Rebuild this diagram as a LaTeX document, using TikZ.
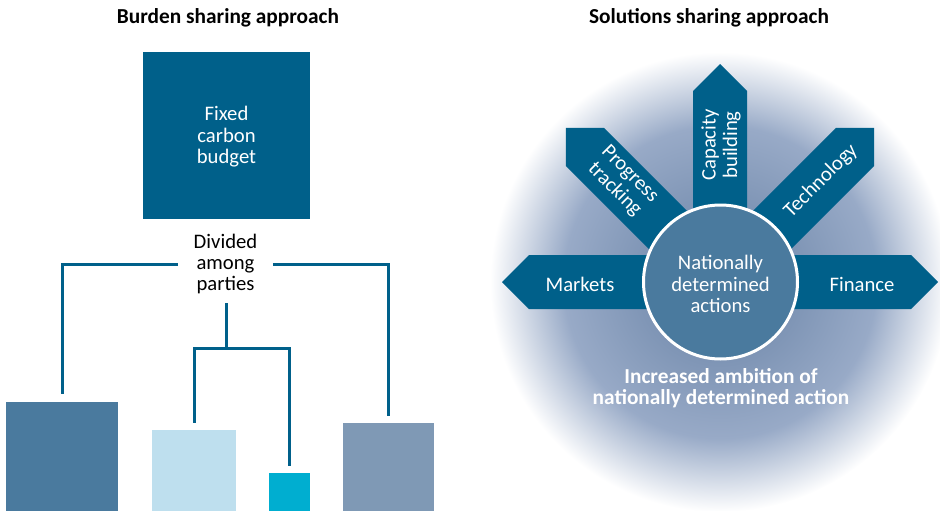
\documentclass[tikz,border=0pt]{standalone}
\usepackage{fontspec}
\setmainfont{Carlito}
\definecolor{navy}{RGB}{0,96,138}
\definecolor{midblue}{RGB}{74,122,158}
\definecolor{lightblue}{RGB}{190,223,238}
\definecolor{cyanbox}{RGB}{0,174,208}
\definecolor{greyblue}{RGB}{127,153,181}
\definecolor{glowA}{RGB}{122,145,178}
\definecolor{glowB}{RGB}{152,170,199}
\pgfdeclareradialshading{glow}{\pgfpoint{0bp}{0bp}}{color(0bp)=(glowA); color(7bp)=(glowA); color(17bp)=(glowB); color(25bp)=(white); color(50bp)=(white)}
\tikzset{
  txt/.style={font=\fontsize{15.5}{16.1}\selectfont, align=center, inner sep=0pt},
  ttl/.style={font=\bfseries\fontsize{16}{16.1}\selectfont, align=center, inner sep=0pt},
  box/.style={rectangle, inner sep=0pt, draw=none},
  conn/.style={draw=navy, line width=2.25pt, shorten >=5pt},
  arrowshape/.style={fill=navy, draw=none},
}
\begin{document}
\begin{tikzpicture}[x=0.75pt,y=-0.75pt]
\useasboundingbox (0,0) rectangle (940,511);
% ---------- left ----------
\node[ttl] (t1) at (228,18) {Burden sharing approach};
\node[box, fill=navy, minimum width=125.25pt, minimum height=125.25pt] (fixed) at (226.5,135.5) {};
\node[txt, text=white] (fixedtxt) at (226.5,137) {Fixed\\carbon\\budget};
\node[txt, minimum width=70.5pt] (div) at (225.5,264) {Divided\\among\\parties};
\node[box, fill=midblue, minimum width=84pt, minimum height=81.75pt] (b1) at (62,456.5) {};
\node[box, fill=lightblue, minimum width=63pt, minimum height=60.75pt] (b2) at (194,470.5) {};
\node[box, fill=cyanbox, minimum width=30.75pt, minimum height=28.5pt] (b3) at (289.5,492) {};
\node[box, fill=greyblue, minimum width=68.25pt, minimum height=66pt] (b4) at (388.5,467) {};
\coordinate (dvb) at (226,303);
\coordinate (mid) at (226,348);
\draw[conn, shorten >=6pt] (div.west) -| (b1.north);
\draw[conn] (div.east) -| (b4.north);
\draw[conn, shorten >=0pt] (dvb) -- (mid);
\draw[conn] (mid) -| (b2.north);
\draw[conn] (mid) -| (b3.north);
% ---------- right ----------
\node[ttl] (t2) at (709,18) {Solutions sharing approach};
\begin{scope}
\clip (0,0) rectangle (940,511);
\shade[shading=glow] (720,282) circle (230);
\end{scope}
\foreach \ang in {0,45,90,135,180}{
  \begin{scope}[shift={(720,282)}, rotate=\ang]
    \fill[arrowshape] (0,-27) -- (191,-27) -- (218,0) -- (191,27) -- (0,27) -- cycle;
  \end{scope}
}
\node[circle, fill=midblue, draw=white, line width=2.25pt, minimum size=115.5pt, inner sep=0pt] (nda) at (720.5,282) {};
\node[txt, text=white] (ndatxt) at (720.5,284) {Nationally\\determined\\actions};
\node[txt, text=white] (markets) at (580,284) {Markets};
\node[txt, text=white] (finance) at (862,284) {Finance};
\node[txt, text=white, rotate=90] (capacity) at (721,145) {Capacity\\building};
\node[txt, text=white, rotate=-45] (progress) at (622,182) {Progress\\tracking};
\node[txt, text=white, rotate=45] (tech) at (821,181) {Technology};
\node[ttl, text=white] (amb) at (721,388) {Increased ambition of\\nationally determined action};
\end{tikzpicture}
\end{document}
